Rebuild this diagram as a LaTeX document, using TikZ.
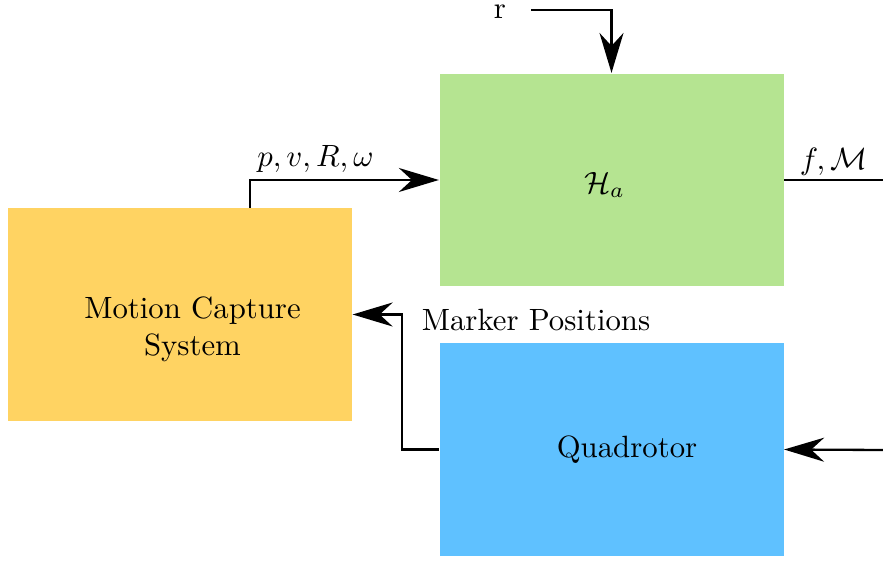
\documentclass[tikz,border=0pt]{standalone}
\usetikzlibrary{arrows.meta}
\definecolor{mocapyellow}{RGB}{255,211,98}
\definecolor{hagreen}{RGB}{181,228,145}
\definecolor{quadblue}{RGB}{95,193,255}
\begin{document}
\begin{tikzpicture}[x=0.325pt,y=-0.325pt,
        block/.style={rectangle,inner sep=0pt,minimum width=111.8pt,minimum height=69.2pt},
        signal/.style={line width=0.75pt},
        conn/.style={signal,-{Stealth[length=13pt,width=7.8pt]}}]
        \useasboundingbox (0,0) rectangle (883,561);

        % Blocks
        \node [block,fill=mocapyellow] (mocap) at (180,314.5) {};
        \node [block,fill=hagreen]     (ha)    at (611.5,180) {};
        \node [block,fill=quadblue]    (quad)  at (611.5,449.5) {};

        % Texts
        \node [align=center] (mocaptext) at (192.5,329) {Motion Capture\\System};
        \node (hatext)   at (604.5,185) {$\mathcal{H}_a$};
        \node (quadtext) at (627,450) {Quadrotor};

        % Signals
        \node [inner sep=0pt] (r) at (500,12) {r};
        \coordinate (rstart) at (531,10);
        \draw [conn] (rstart) -| (ha.north);

        \coordinate (mocapout) at (250,208);
        \draw [conn] (mocapout) |- node [above right,inner sep=2pt] {$p, v, R, \omega$} (ha.west);

        \coordinate (haout) at (883,180);
        \draw [signal] (ha.east) -- node [above,inner sep=1pt] {$f, \mathcal{M}$} (haout);

        \coordinate (quadin) at (883,450);
        \draw [conn] (quadin) -- (quad.east);

        \draw [conn] (quad.west) -- ++(-37,0) |- (mocap.east);
        \node (markers) at (536,320) {Marker Positions};
    \end{tikzpicture}
\end{document}
